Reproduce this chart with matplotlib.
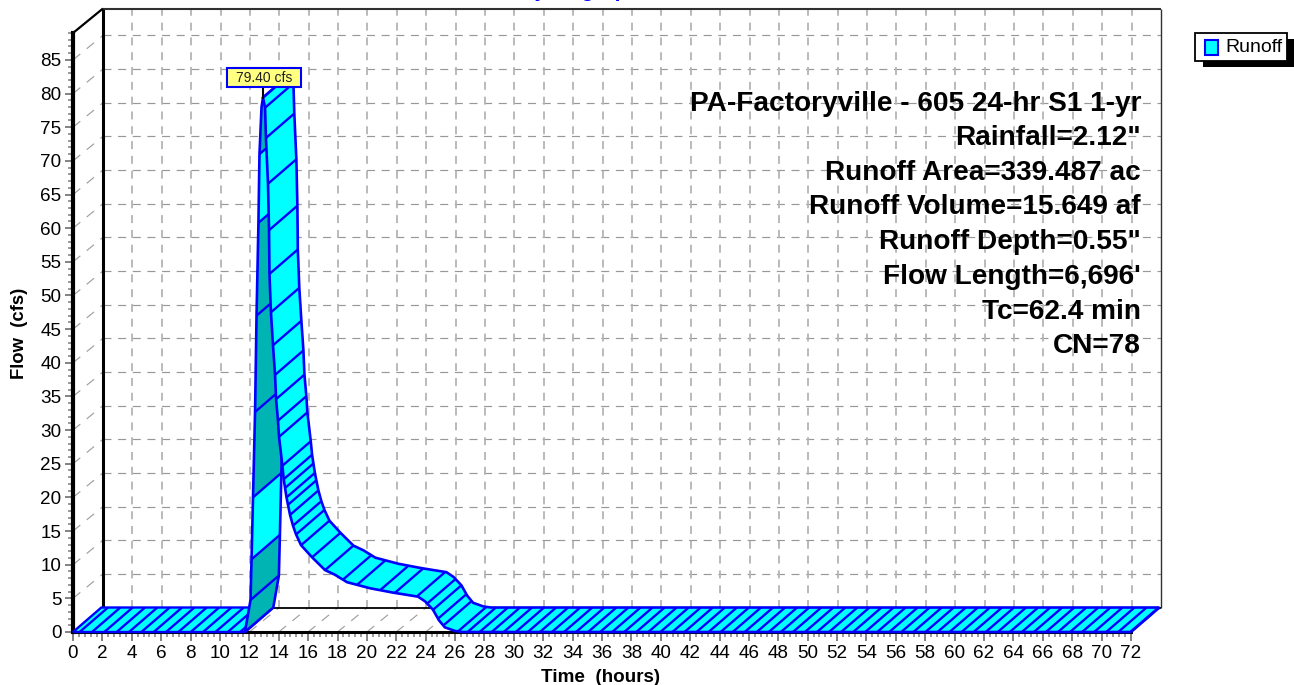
import numpy as np
import matplotlib
matplotlib.use("Agg")
import matplotlib.pyplot as plt
from matplotlib.patches import Polygon, Rectangle
from matplotlib.ticker import MultipleLocator

plt.rcParams['font.family'] = ['Liberation Sans', 'DejaVu Sans']

# Rising limb of the hydrograph
rise_t = [11.7, 12.08, 12.15, 12.25, 12.39, 12.49, 12.62, 12.69, 12.83, 12.93]
rise_q = [0, 4.75, 10.8, 20, 32.7, 47, 60.8, 71, 78, 79.4]
rise_dark = [1, 1, 0, 1, 1, 1, 0, 1, 1]
# Falling limb of the hydrograph
fall_t = [12.93, 13.07, 13.13, 13.27, 13.34, 13.37, 13.47, 13.61, 13.75, 13.82, 13.95,
          14.02, 14.25, 14.34, 14.43, 14.53, 14.63, 14.77, 14.97, 15.18, 15.52, 16.27,
          17.15, 17.83, 18.65, 20.21, 21.78, 23.48, 23.96, 24.5, 24.9, 25.3, 26.0, 26.5, 72]
fall_q = [79.4, 77.9, 73.4, 66.6, 59.7, 53.2, 47.5, 42.6, 38.2, 34.6, 31.4,
          29, 24.7, 22.7, 21.4, 20, 18.9, 17.4, 15.8, 14.5, 12.9, 11.1,
          9.2, 8.5, 7.4, 6.5, 5.85, 5.25, 4.55, 3.3, 1.75, 0.7, 0.15, 0, 0]
# Positions of the stripes across the ribbon
stripe_t_flat = list(np.arange(0.45, 11.6, 0.84)) + list(np.arange(26.85, 72, 0.82))
stripe_t_rise = rise_t[1:8]
stripe_t_fall = fall_t[1:22] + [17.15, 18.37, 19.33, 20.9, 21.9, 23.4, 24.1, 24.5, 24.84, 25.2, 26.2]

x_ticks = list(range(0, 73, 2))
y_ticks = list(range(0, 86, 5))
peak_label = "79.40 cfs"
notes = ["PA-Factoryville - 605 24-hr S1 1-yr", 'Rainfall=2.12"', "Runoff Area=339.487 ac",
         "Runoff Volume=15.649 af", 'Runoff Depth=0.55"', "Flow Length=6,696'",
         "Tc=62.4 min", "CN=78"]
note_y = [104, 138, 173, 207, 242, 277, 312, 346]

W, H = 1294, 685
CYAN, TEAL, BLUE = '#00ffff', '#00b4b4', '#0000ff'
DX, DY = 2.04, 3.64    # depth of the 3-D box, in data units
RDX, RDY = 1.93, 3.64  # depth of the ribbon, in data units
XMAX, YMAX = 72, 89

fig = plt.figure(figsize=(W / 100, H / 100), dpi=100, facecolor='white')
ax = fig.add_axes([73 / W, (H - 632) / H, 1058 / W, 599 / H])
ax.set_xlim(0, XMAX)
ax.set_ylim(0, YMAX)
ax.patch.set_alpha(0)


def fx(x):
    return x / W


def fy(y):
    return 1 - y / H


# back wall grid
for y in y_ticks[1:]:
    ax.plot([DX, XMAX + DX], [y + DY, y + DY], color='#989898', lw=0.85, ls=(0, (6.8, 5.6)),
            clip_on=False, zorder=1)
for x in x_ticks[1:-1]:
    ax.plot([x + DX, x + DX], [DY, YMAX + DY], color='#b4b4b4', lw=1.3, ls=(0, (4.4, 3.8)),
            clip_on=False, zorder=1)
# side wall and floor diagonals
diag = dict(color='#a0a0a0', lw=0.85, ls=(0, (8, 7)), clip_on=False, zorder=1)
for y in y_ticks:
    ax.plot([0, DX], [y, y + DY], **diag)
for x in x_ticks[1:]:
    ax.plot([x, x + DX], [0, DY], **diag)

# frame of the 3-D box
frame = dict(clip_on=False, zorder=1.5, solid_capstyle='butt')
ax.plot([DX, DX], [DY, YMAX + DY], color='black', lw=2.2, **frame)
ax.plot([DX, XMAX + DX], [YMAX + DY, YMAX + DY], color='#303030', lw=1.5, **frame)
ax.plot([XMAX + DX, XMAX + DX], [DY, YMAX + DY], color='#303030', lw=1.0, **frame)
ax.plot([DX, XMAX + DX], [DY, DY], color='black', lw=1.3, **frame)
ax.plot([0, DX], [YMAX, YMAX + DY], color='black', lw=1.6, **frame)


def ribbon(ts, qs):
    ts, qs = np.asarray(ts, float), np.asarray(qs, float)
    front = np.column_stack([ts, qs])
    back = np.column_stack([ts + RDX, qs + RDY])
    return np.vstack([front, back[::-1]])


def stripes(ts, src_t, src_q, z):
    for t in ts:
        q = np.interp(t, src_t, src_q)
        ax.plot([t, t + RDX], [q, q + RDY], color=BLUE, lw=1.7, clip_on=False, zorder=z,
                solid_capstyle='butt')


# flat part before the rise
ax.add_patch(Polygon(ribbon([0, rise_t[0]], [0, 0]), closed=True, fc=CYAN, ec=BLUE, lw=1.7,
                     clip_on=False, zorder=3))
stripes(stripe_t_flat[:14], [0, 72], [0, 0], 3.1)

# rising limb, band by band
for i, dark in enumerate(rise_dark):
    ax.add_patch(Polygon(ribbon(rise_t[i:i + 2], rise_q[i:i + 2]), closed=True,
                         fc=TEAL if dark else CYAN, ec='none', clip_on=False, zorder=4))
stripes(stripe_t_rise, rise_t, rise_q, 4.1)
ax.add_patch(Polygon(ribbon(rise_t, rise_q), closed=True, fc='none', ec=BLUE, lw=1.9,
                     clip_on=False, zorder=4.2))

# falling limb and tail
ax.add_patch(Polygon(ribbon(fall_t, fall_q), closed=True, fc=CYAN, ec='none',
                     clip_on=False, zorder=5))
stripes(stripe_t_fall, fall_t, fall_q, 5.1)
stripes(stripe_t_flat[14:], [0, 72], [0, 0], 5.1)
ax.add_patch(Polygon(ribbon(fall_t, fall_q), closed=True, fc='none', ec=BLUE, lw=1.9,
                     clip_on=False, zorder=5.2))

# axes
for s in ('top', 'right'):
    ax.spines[s].set_visible(False)
ax.spines['left'].set_linewidth(3.0)
ax.spines['bottom'].set_linewidth(2.2)
ax.spines['left'].set_zorder(2)
ax.spines['bottom'].set_zorder(2)
ax.xaxis.set_minor_locator(MultipleLocator(0.4))
ax.yaxis.set_minor_locator(MultipleLocator(1))
ax.set_xticks(x_ticks)
ax.set_yticks(y_ticks)
ax.tick_params(axis='x', which='major', length=6.5, width=1.1, color='#606060', labelsize=13.6, pad=3)
ax.tick_params(axis='x', which='minor', length=3.6, width=1.1, color='#808080')
ax.tick_params(axis='y', which='major', length=5.8, width=1.1, color='#606060', labelsize=13.6, pad=2.5)
ax.tick_params(axis='y', which='minor', length=3.6, width=1.1, color='#808080')

fig.text(fx(20), fy(333), "Flow  (cfs)", rotation=90, ha='center', va='center',
         fontsize=13.3, fontweight='bold')
fig.text(fx(601), fy(677), "Time  (hours)", ha='center', va='center',
         fontsize=13.6, fontweight='bold')
fig.text(fx(581), fy(-3.5), "Hydrograph", ha='center', va='baseline', color=BLUE,
         fontsize=15.5, fontweight='bold')

# annotation block
for line, y in zip(notes, note_y):
    fig.text(fx(1141), fy(y), line, ha='right', va='center', fontsize=20.2,
             fontweight='bold', color='black', zorder=10)

# peak label
peak = max(rise_q)
peak_t = rise_t[rise_q.index(peak)]
ax.plot([peak_t, peak_t], [peak, peak + 11 / 6.73], color='black', lw=1.5, clip_on=False, zorder=6)
fig.add_artist(Rectangle((fx(227), fy(87)), 74 / W, 19 / H, transform=fig.transFigure,
                         fc='#ffff80', ec=BLUE, lw=1.5, zorder=7))
fig.text(fx(264), fy(78), peak_label, ha='center', va='center', fontsize=10,
         color='#202020', zorder=8)

# legend
fig.add_artist(Rectangle((fx(1203), fy(67)), 91 / W, 28 / H, transform=fig.transFigure,
                         fc='black', ec='none', zorder=6))
fig.add_artist(Rectangle((fx(1195), fy(60.5)), 92 / W, 28 / H, transform=fig.transFigure,
                         fc='white', ec='black', lw=1.3, zorder=7))
fig.add_artist(Rectangle((fx(1204.5), fy(54.5)), 13 / W, 15 / H, transform=fig.transFigure,
                         fc=CYAN, ec=BLUE, lw=1.5, zorder=8))
fig.text(fx(1225), fy(48), "Runoff", ha='left', va='center', fontsize=14, zorder=9)

fig.savefig("out.png", dpi=100)
